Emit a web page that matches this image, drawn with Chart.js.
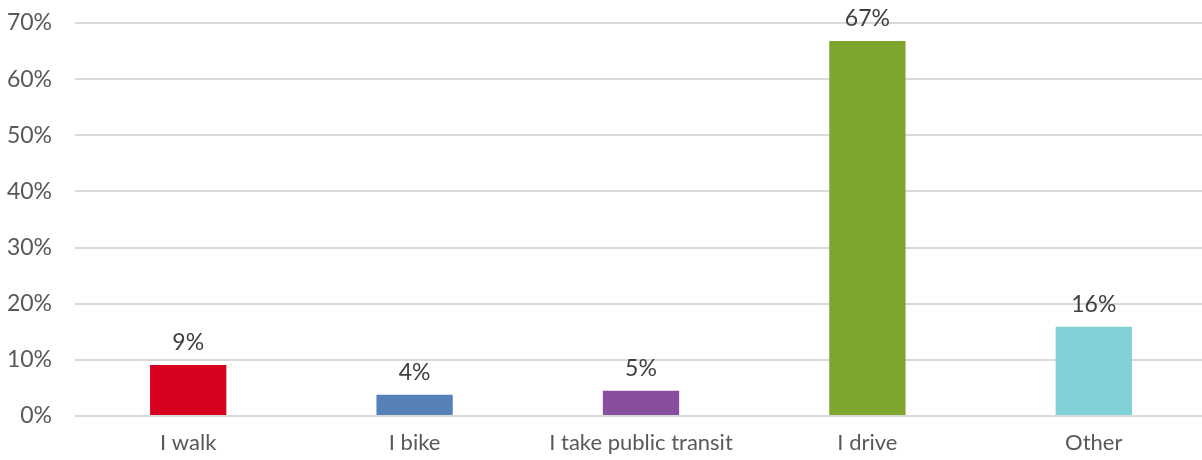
<!DOCTYPE html>
<html>
<head>
<meta charset="utf-8">
<script src="https://cdn.jsdelivr.net/npm/chart.js@4/dist/chart.umd.min.js"></script>
<style>
  html, body { margin: 0; padding: 0; background: #fff; overflow: hidden; }
  #wrap { width: 1207px; height: 460px; }
</style>
</head>
<body>
<div id="wrap"><canvas id="chart"></canvas></div>
<script>
var categories = ['I walk', 'I bike', 'I take public transit', 'I drive', 'Other'];
var values = [9.1, 3.8, 4.5, 66.8, 15.9];
var valueLabels = ['9%', '4%', '5%', '67%', '16%'];
var barColors = ['#d7001e', '#5580b8', '#8a4e9f', '#7ea62d', '#7fd1d5'];

// draws the percentage above each bar
var barLabels = {
    id: 'barLabels',
    afterDatasetsDraw: function(chart) {
        var ctx = chart.ctx;
        var meta = chart.getDatasetMeta(0);
        ctx.save();
        ctx.font = '23px Lato';
        ctx.fillStyle = '#404040';
        ctx.textAlign = 'center';
        ctx.textBaseline = 'bottom';
        meta.data.forEach(function(bar, i) {
            ctx.fillText(valueLabels[i], bar.x, bar.y - 11);
        });
        ctx.restore();
    }
};

new Chart(document.getElementById('chart'), {
    type: 'bar',
    data: {
        labels: categories,
        datasets: [{
            data: values,
            backgroundColor: barColors,
            categoryPercentage: 1,
            barPercentage: 0.337
        }]
    },
    options: {
        responsive: true,
        maintainAspectRatio: false,
        animation: false,
        layout: { padding: { top: 23, right: 0, bottom: 0, left: 0 } },
        plugins: {
            legend: { display: false },
            tooltip: { enabled: false }
        },
        scales: {
            x: {
                grid: { display: false, drawTicks: false },
                border: { display: false },
                afterFit: function(scale) {
                    scale.height = 44;
                    scale.paddingLeft = 0;
                    scale.paddingRight = 0;
                },
                ticks: {
                    color: '#595959',
                    font: { family: 'Lato', size: 22 },
                    padding: 14,
                    maxRotation: 0
                }
            },
            y: {
                min: 0,
                max: 70,
                grid: { color: '#d9d9d9', lineWidth: 2, drawTicks: false },
                border: { display: false },
                afterFit: function(scale) {
                    scale.width = 75;
                    scale.paddingTop = 0;
                    scale.paddingBottom = 0;
                },
                ticks: {
                    stepSize: 10,
                    color: '#595959',
                    font: { family: 'Lato', size: 23 },
                    padding: 23,
                    callback: function(v) { return v + '%'; }
                }
            }
        }
    },
    plugins: [barLabels]
});
</script>
</body>
</html>
